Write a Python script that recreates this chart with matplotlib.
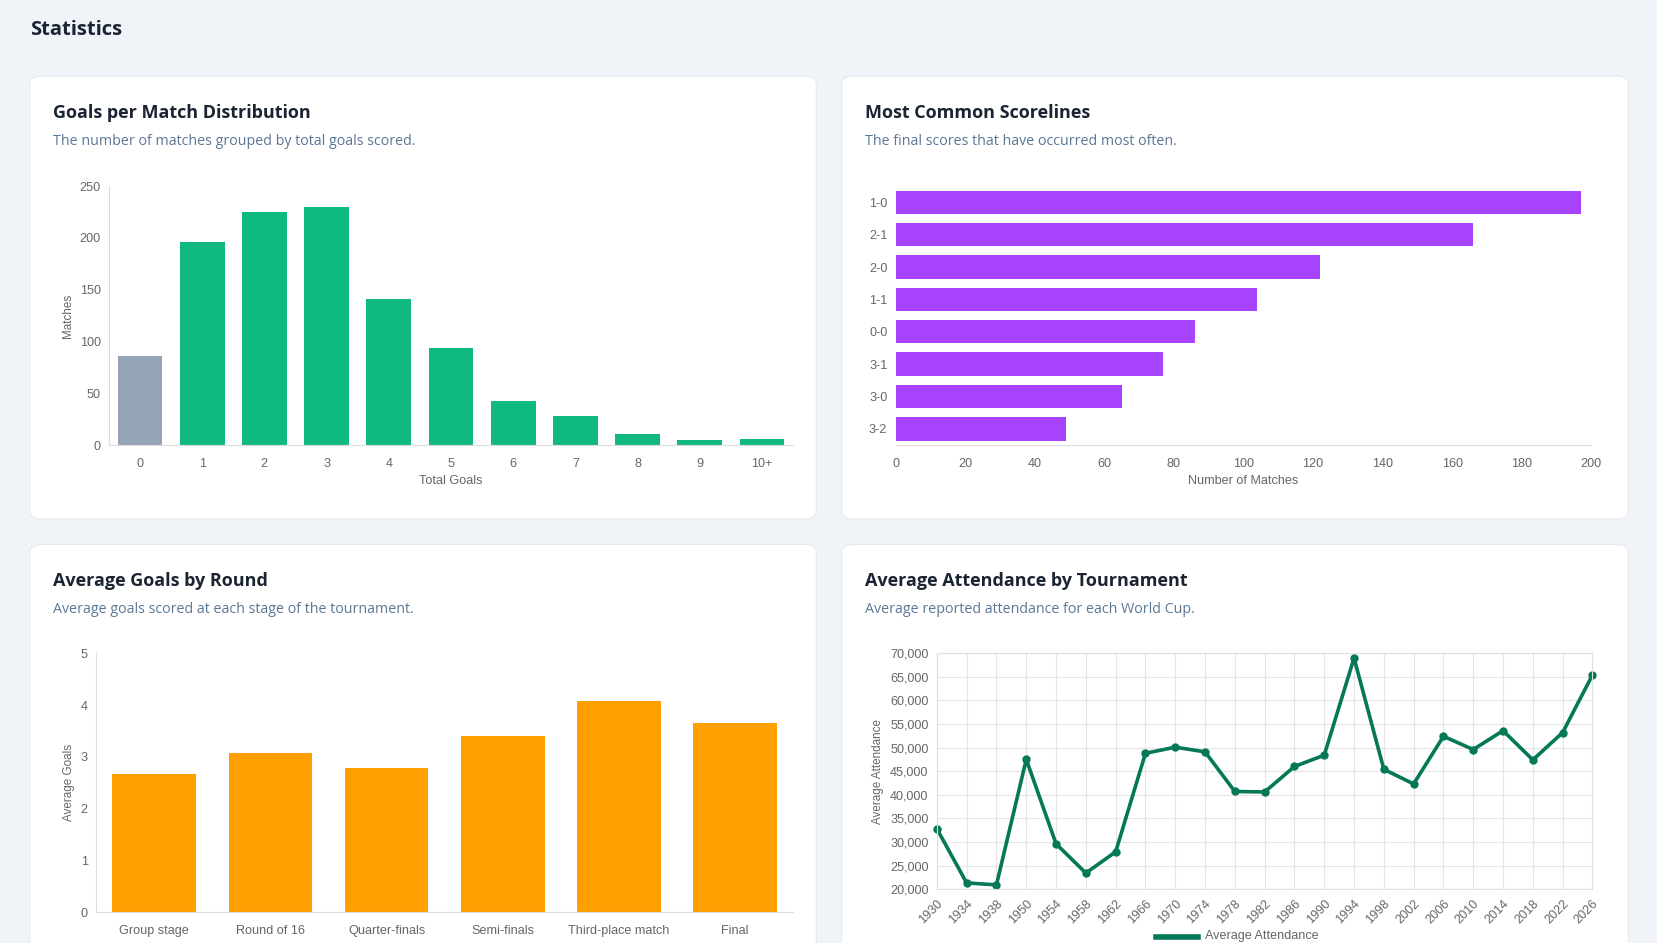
import matplotlib
matplotlib.use("Agg")
import matplotlib.pyplot as plt
from matplotlib.patches import FancyBboxPatch
from matplotlib.lines import Line2D

goal_labels = ["0","1","2","3","4","5","6","7","8","9","10+"]
goal_counts = [86,196,225,230,141,94,43,28,11,5,6]
score_labels = ["1-0","2-1","2-0","1-1","0-0","3-1","3-0","3-2"]
score_counts = [197,166,122,104,86,77,65,49]
round_labels = ["Group stage","Round of 16","Quarter-finals","Semi-finals","Third-place match","Final"]
round_goals = [2.68,3.08,2.78,3.40,4.08,3.66]
years = ["1930","1934","1938","1950","1954","1958","1962","1966","1970","1974","1978","1982",
         "1986","1990","1994","1998","2002","2006","2010","2014","2018","2022","2026"]
attendance = [32800,21300,20900,47500,29600,23400,27900,48800,50100,49100,40700,40600,
              46000,48400,69000,45400,42300,52400,49600,53600,47400,53200,65400]

W, H = 1568, 892
fig = plt.figure(figsize=(16.58, 9.43), dpi=100)
fig.patch.set_facecolor("#f0f4f9")
S = 1658/1568
def pt(px): return px*0.72*S
def ax_at(l, t, r, b):
    a = fig.add_axes([l/W, 1-b/H, (r-l)/W, (b-t)/H], zorder=5)
    a.set_facecolor("none")
    return a
def card(l, t, r, b):
    p = FancyBboxPatch((l/W, 1-b/H), (r-l)/W, (b-t)/H, boxstyle="round,pad=0,rounding_size=0.008",
                       transform=fig.transFigure, facecolor="white", edgecolor="#e6eaf0", lw=0.8, zorder=-10)
    fig.patches.append(p)
def txt(x, y, s, **kw):
    fig.text(x/W, 1-y/H, s, zorder=6, **kw)

TF = "Open Sans"
txt(28, 28, "Statistics", fontsize=pt(19), fontweight="bold", color="#1b2433", family=TF, va="center")
card(28, 72, 772, 491); card(796, 72, 1540, 491)
card(28, 515, 772, 940); card(796, 515, 1540, 940)
for x, y, t, s in [(50,107,"Goals per Match Distribution","The number of matches grouped by total goals scored."),
                   (818,107,"Most Common Scorelines","The final scores that have occurred most often."),
                   (50,550,"Average Goals by Round","Average goals scored at each stage of the tournament."),
                   (818,550,"Average Attendance by Tournament","Average reported attendance for each World Cup.")]:
    txt(x, y, t, fontsize=pt(17), fontweight="bold", color="#1b2433", family=TF, va="center")
    txt(x, y+27, s, fontsize=pt(13.5), color="#5b7796", family=TF, va="center")

tick = dict(labelsize=pt(12), labelcolor="#666666", colors="#666666")
plt.rcParams["font.family"] = "Liberation Sans"

def style(ax):
    for s in ["top","right"]:
        ax.spines[s].set_visible(False)
    for s in ["left","bottom"]:
        ax.spines[s].set_color("#dddddd")
    ax.tick_params(length=0, pad=6, **tick)

# chart 1
ax = ax_at(103, 176, 750, 421)
cols = ["#94a3b8"] + ["#10b981"]*(len(goal_counts)-1)
ax.bar(range(len(goal_counts)), goal_counts, width=0.72, color=cols)
ax.set_xlim(-0.5, len(goal_counts)-0.5); ax.set_ylim(0, 250)
ax.set_xticks(range(len(goal_labels))); ax.set_xticklabels(goal_labels)
ax.set_yticks([0,50,100,150,200,250])
ax.set_xlabel("Total Goals", fontsize=pt(12), color="#666666")
ax.set_ylabel("Matches", fontsize=pt(11), color="#666666")
style(ax); ax.tick_params(axis="x", pad=9)

# chart 2
ax = ax_at(847, 176, 1505, 421)
ax.barh(range(len(score_counts)), score_counts, height=0.72, color="#a742ff")
ax.set_ylim(len(score_counts)-0.5, -0.5); ax.set_xlim(0, 200)
ax.set_yticks(range(len(score_labels))); ax.set_yticklabels(score_labels)
ax.set_xticks(range(0, 201, 20))
ax.set_xlabel("Number of Matches", fontsize=pt(12), color="#666666")
style(ax); ax.spines["left"].set_visible(False); ax.tick_params(axis="x", pad=9)

# chart 3
ax = ax_at(91, 618, 750, 863)
ax.bar(range(len(round_goals)), round_goals, width=0.72, color="#ff9f00")
ax.set_xlim(-0.5, len(round_goals)-0.5); ax.set_ylim(0, 5)
ax.set_xticks(range(len(round_labels))); ax.set_xticklabels(round_labels)
ax.set_ylabel("Average Goals", fontsize=pt(11), color="#666666")
style(ax); ax.tick_params(axis="x", pad=9)

# chart 4
ax = ax_at(886, 618, 1506, 841)
ax.plot(range(len(attendance)), attendance, color="#047857", lw=2.6, marker="o", ms=5, clip_on=False)
ax.set_xlim(0, len(attendance)-1); ax.set_ylim(20000, 70000)
ax.set_xticks(range(len(years))); ax.set_xticklabels(years, rotation=45, ha="right", rotation_mode="anchor")
ax.set_yticks(range(20000, 70001, 5000))
ax.set_yticklabels([f"{v:,}" for v in range(20000, 70001, 5000)])
ax.grid(True, color="#e5e5e5", lw=0.8)
ax.set_ylabel("Average Attendance", fontsize=pt(11), color="#666666")
style(ax)
for s in ax.spines.values():
    s.set_visible(True); s.set_color("#e0e0e0")
fig.lines.append(Line2D([1093/W, 1133/W], [1-886/H]*2, transform=fig.transFigure, color="#047857", lw=4, zorder=6))
txt(1140, 885, "Average Attendance", fontsize=pt(12), color="#666666", va="center")

fig.savefig("out.png", dpi=100, facecolor=fig.get_facecolor())
